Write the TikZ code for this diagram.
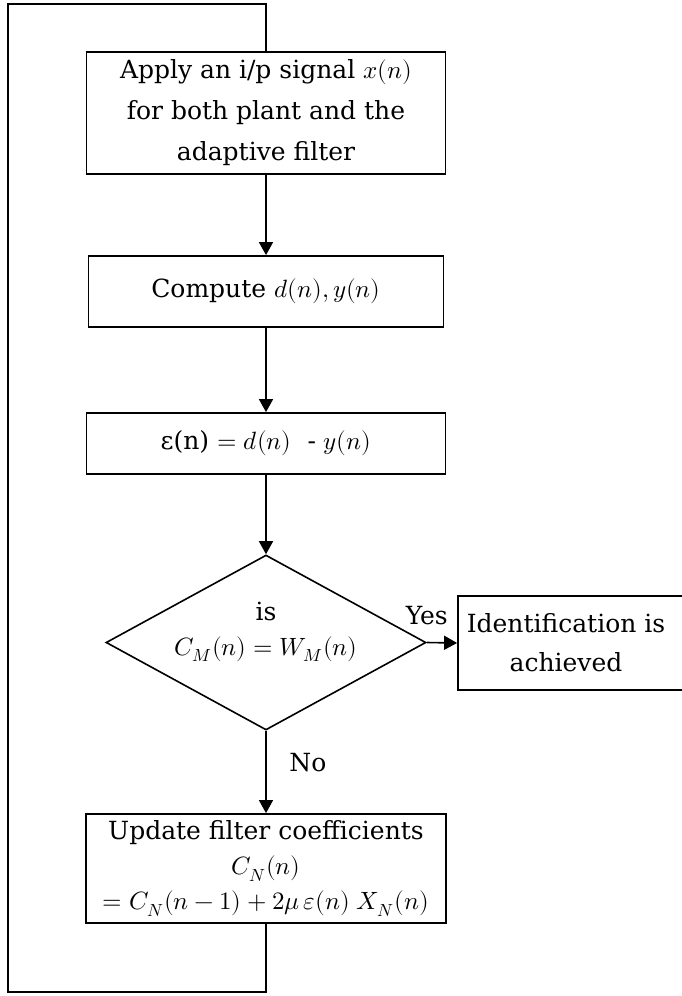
\documentclass[tikz,border=0pt]{standalone}
\usepackage{fontspec}
\usepackage{unicode-math}
\setmainfont{DejaVu Serif}
\setmathfont{Latin Modern Math}
\usetikzlibrary{shapes.geometric,arrows.meta}

\tikzset{
  flowbox/.style={draw, line width=0.9pt, inner sep=0pt, align=center,
    font=\fontsize{12.5}{20.5}\selectfont},
  flowarrow/.style={line width=0.8pt, -{Triangle[length=6.5pt,width=7pt]}},
  flowlabel/.style={font=\fontsize{12.5}{15}\selectfont},
}

\begin{document}
\begin{tikzpicture}[x=0.5pt, y=-0.5pt] % one unit per pixel of the reference
  \useasboundingbox (0,0) rectangle (681,996);
  % Main column
  \node[flowbox, minimum width=179.5pt, minimum height=61pt] (apply) at (266,113)
    {Apply an i/p signal $x(n)$\\for both plant and the\\adaptive filter};
  \node[flowbox, minimum width=177.5pt, minimum height=35.5pt] (compute) at (266,291.5)
    {Compute $d(n), y(n)$};
  \node[flowbox, minimum width=179.5pt, minimum height=30.5pt] (error) at (266,443.5)
    {ε(n) $= d(n)$\ \ - $y(n)$};
  \node[flowbox, diamond, shape aspect=1.83, minimum width=160pt, minimum height=87.5pt,
    inner sep=-12pt, line width=0.8pt, font=\fontsize{12.5}{17.5}\selectfont,
    text depth=14pt] (check) at (266,642.5)
    {is\\$C_M(n) = W_M(n)$};
  \node[flowbox, minimum width=180pt, minimum height=54.5pt,
    font=\fontsize{12.5}{17.5}\selectfont] (update) at (266,868.5)
    {Update filter coefficients\\$C_N(n)$\\$= C_N(n-1) + 2\mu\,\varepsilon(n)\;X_N(n)$};
  % Side box
  \node[flowbox, minimum width=114pt, minimum height=47pt,
    font=\fontsize{12.5}{19.5}\selectfont] (done) at (572,643)
    {\hspace*{-6pt}Identification is\\\hspace*{-6pt}achieved};
  % Arrows
  \draw[flowarrow] (apply) -- (compute);
  \draw[flowarrow] (compute) -- (error);
  \draw[flowarrow] (error) -- (check);
  \draw[flowarrow] (check.east) -- node[flowlabel, pos=0, above=5pt] {Yes} (done.west);
  \draw[flowarrow] (check.south) -- node[flowlabel, pos=0.38, right=8pt] {No} (update.north);
  % Feedback loop
  \coordinate (loopbot) at (8,992);
  \coordinate (looptop) at (8,4);
  \draw[line width=0.9pt] (update.south) |- (loopbot) -- (looptop) -| (apply.north);
\end{tikzpicture}
\end{document}
